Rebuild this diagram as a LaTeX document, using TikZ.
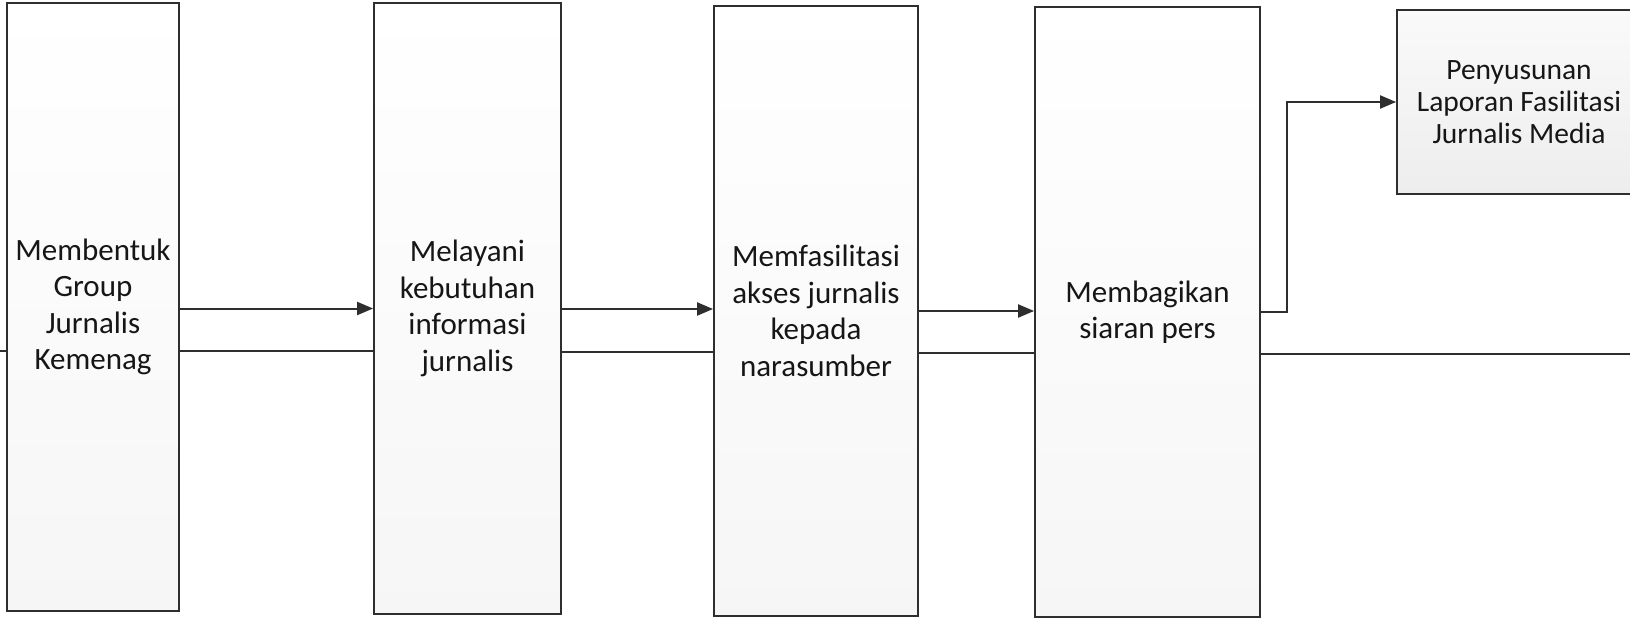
\documentclass[tikz,border=0pt]{standalone}
\usepackage{fontspec}
\setmainfont{Carlito}
\usetikzlibrary{arrows.meta,calc}
\definecolor{ln}{HTML}{2E2E2E}
\definecolor{tx}{HTML}{161616}
\tikzset{
  tallbox/.style={draw=ln, line width=1.8pt, rectangle, top color=white, bottom color=gray!7,
    align=center, text=tx, font=\fontsize{31}{36.5}\selectfont, inner sep=0pt},
  sidebox/.style={draw=ln, line width=1.8pt, rectangle, top color=gray!4, bottom color=gray!14,
    align=center, text=tx, font=\fontsize{29.5}{32}\selectfont, inner sep=0pt},
  arr/.style={draw=ln, line width=2pt, -{Triangle[length=16pt,width=13pt]}},
  ln/.style={draw=ln, line width=2pt}
}
\begin{document}
\begin{tikzpicture}[x=1pt,y=-1pt]
\clip (0,0) rectangle (1630,618);
\fill[white] (0,0) rectangle (1630,618);
\node[tallbox, minimum width=172pt, minimum height=608pt] (b1) at (93,307) {Membentuk\\Group\\Jurnalis\\Kemenag};
\node[tallbox, minimum width=187pt, minimum height=611pt] (b2) at (467.5,308.5) {Melayani\\kebutuhan\\informasi\\jurnalis};
\node[tallbox, minimum width=204pt, minimum height=610pt] (b3) at (816,311) {Memfasilitasi\\akses jurnalis\\kepada\\narasumber};
\node[tallbox, minimum width=225pt, minimum height=610pt] (b4) at (1147.5,312) {Membagikan\\siaran pers};
\node[sidebox, minimum width=244pt, minimum height=184pt] (b5) at (1519,102) {Penyusunan\\Laporan Fasilitasi\\Jurnalis Media};
\coordinate (lstart) at (0,351);
\coordinate (rend) at (1630,354);
% arrows
\draw[arr] ($(b1.east)+(0,1.5)$) -- ($(b1.east -| b2.west)+(0,1.5)$);
\draw[arr] ($(b2.east)+(0,0.5)$) -- ($(b2.east -| b3.west)+(0,0.5)$);
\draw[arr] (b3.east) -- (b3.east -| b4.west);
\draw[arr] (b4.east) -- ++(26,0) |- (b5.west);
% lower lines
\draw[ln] (lstart) -- (lstart -| b1.west);
\draw[ln] ($(b1.east)+(0,43.5)$) -- ($(b1.east -| b2.west)+(0,43.5)$);
\draw[ln] ($(b2.east)+(0,43)$) -- ($(b2.east -| b3.west)+(0,43)$);
\draw[ln] ($(b3.east)+(0,42)$) -- ($(b3.east -| b4.west)+(0,42)$);
\draw[ln] (rend -| b4.east) -- (rend);
\end{tikzpicture}
\end{document}
